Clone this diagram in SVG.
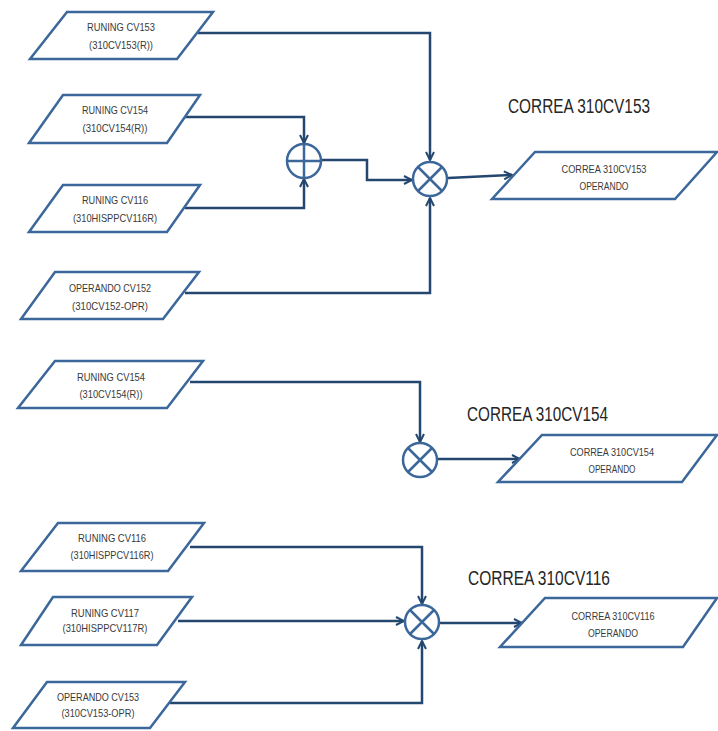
<svg xmlns="http://www.w3.org/2000/svg" width="718" height="731" viewBox="0 0 718 731">
  <style>
    .box { fill: #ffffff; stroke: #3b679a; stroke-width: 2.5; stroke-linejoin: miter; }
    .lbl { font-family: "Liberation Sans", Arial, sans-serif; font-size: 10.5px; fill: #3a3a3a; text-anchor: middle; }
    .title { font-family: "Liberation Sans", Arial, sans-serif; font-size: 20px; fill: #262626; }
    .wire { fill: none; stroke: #24476f; stroke-width: 2.5; stroke-linejoin: miter; }
    .op { fill: #ffffff; stroke: #3b679a; stroke-width: 2.5; }
  </style>
  <defs>
    <marker id="arrow" viewBox="0 0 10 10" refX="9" refY="5" markerWidth="10" markerHeight="10" markerUnits="userSpaceOnUse" orient="auto">
      <path d="M1,1 L9,5 L1,9" fill="none" stroke="#24476f" stroke-width="2"/>
    </marker>
  </defs>

  <rect width="718" height="731" fill="#ffffff"/>

  <!-- connectors -->
  <g id="connectors">
    <path class="wire" d="M198,33 H430 V160" marker-end="url(#arrow)"/>
    <path class="wire" d="M185,117 H304 V143" marker-end="url(#arrow)"/>
    <path class="wire" d="M185,208 H304 V179" marker-end="url(#arrow)"/>
    <path class="wire" d="M321,160 H367 V180 H412" marker-end="url(#arrow)"/>
    <path class="wire" d="M185,293 H430 V198" marker-end="url(#arrow)"/>
    <path class="wire" d="M448,178 L512,175" marker-end="url(#arrow)"/>

    <path class="wire" d="M190,382 H420 V442" marker-end="url(#arrow)"/>
    <path class="wire" d="M438,459 H520" marker-end="url(#arrow)"/>

    <path class="wire" d="M190,547 H422 V604" marker-end="url(#arrow)"/>
    <path class="wire" d="M178,621 H404" marker-end="url(#arrow)"/>
    <path class="wire" d="M170,703 H422 V641" marker-end="url(#arrow)"/>
    <path class="wire" d="M440,623 H522" marker-end="url(#arrow)"/>
  </g>

  <!-- operators -->
  <g id="sum153">
    <circle class="op" cx="304" cy="161" r="17"/>
    <path class="op" d="M287,161 H321 M304,144 V178"/>
  </g>
  <g id="and153">
    <circle class="op" cx="430" cy="179" r="17"/>
    <path class="op" d="M418,167 L442,191 M442,167 L418,191"/>
  </g>
  <g id="and154">
    <circle class="op" cx="420" cy="460" r="17"/>
    <path class="op" d="M408,448 L432,472 M432,448 L408,472"/>
  </g>
  <g id="and116">
    <circle class="op" cx="422" cy="622" r="17"/>
    <path class="op" d="M410,610 L434,634 M434,610 L410,634"/>
  </g>

  <!-- input nodes -->
  <g id="in-run153">
    <polygon class="box" points="67,12 213,12 177,59 30,59"/>
    <text class="lbl" x="121" y="31" textLength="68" lengthAdjust="spacingAndGlyphs">RUNING CV153</text>
    <text class="lbl" x="121" y="49" textLength="64" lengthAdjust="spacingAndGlyphs">(310CV153(R))</text>
  </g>
  <g id="in-run154a">
    <polygon class="box" points="63,95 200,95 167,143 29,143"/>
    <text class="lbl" x="115" y="114" textLength="66" lengthAdjust="spacingAndGlyphs">RUNING CV154</text>
    <text class="lbl" x="115" y="132" textLength="65" lengthAdjust="spacingAndGlyphs">(310CV154(R))</text>
  </g>
  <g id="in-run116a">
    <polygon class="box" points="63,185 200,185 167,232 29,232"/>
    <text class="lbl" x="115" y="204" textLength="66" lengthAdjust="spacingAndGlyphs">RUNING CV116</text>
    <text class="lbl" x="115" y="222" textLength="84" lengthAdjust="spacingAndGlyphs">(310HISPPCV116R)</text>
  </g>
  <g id="in-opr152">
    <polygon class="box" points="55,272 199,272 163,319 21,319"/>
    <text class="lbl" x="110" y="292" textLength="82" lengthAdjust="spacingAndGlyphs">OPERANDO CV152</text>
    <text class="lbl" x="110" y="310" textLength="76" lengthAdjust="spacingAndGlyphs">(310CV152-OPR)</text>
  </g>
  <g id="in-run154b">
    <polygon class="box" points="55,361 203,361 167,408 18,408"/>
    <text class="lbl" x="111" y="381" textLength="68" lengthAdjust="spacingAndGlyphs">RUNING CV154</text>
    <text class="lbl" x="111" y="398" textLength="63" lengthAdjust="spacingAndGlyphs">(310CV154(R))</text>
  </g>
  <g id="in-run116b">
    <polygon class="box" points="58,523 204,523 168,571 21,571"/>
    <text class="lbl" x="112" y="542" textLength="68" lengthAdjust="spacingAndGlyphs">RUNING CV116</text>
    <text class="lbl" x="112" y="559" textLength="83" lengthAdjust="spacingAndGlyphs">(310HISPPCV116R)</text>
  </g>
  <g id="in-run117">
    <polygon class="box" points="53,597 192,597 157,645 21,645"/>
    <text class="lbl" x="105" y="617" textLength="68" lengthAdjust="spacingAndGlyphs">RUNING CV117</text>
    <text class="lbl" x="105" y="632" textLength="85" lengthAdjust="spacingAndGlyphs">(310HISPPCV117R)</text>
  </g>
  <g id="in-opr153">
    <polygon class="box" points="47,682 185,682 150,728 13,728"/>
    <text class="lbl" x="98" y="701" textLength="82" lengthAdjust="spacingAndGlyphs">OPERANDO CV153</text>
    <text class="lbl" x="98" y="717" textLength="73" lengthAdjust="spacingAndGlyphs">(310CV153-OPR)</text>
  </g>

  <!-- output nodes -->
  <g id="out-153">
    <text class="title" x="508" y="113" textLength="142" lengthAdjust="spacingAndGlyphs">CORREA 310CV153</text>
    <polygon class="box" points="535,152 717,152 675,199 492,199"/>
    <text class="lbl" x="604" y="173" textLength="85" lengthAdjust="spacingAndGlyphs">CORREA 310CV153</text>
    <text class="lbl" x="604" y="190" textLength="49" lengthAdjust="spacingAndGlyphs">OPERANDO</text>
  </g>
  <g id="out-154">
    <text class="title" x="467" y="421" textLength="141" lengthAdjust="spacingAndGlyphs">CORREA 310CV154</text>
    <polygon class="box" points="542,435 717,435 682,482 498,482"/>
    <text class="lbl" x="612" y="456" textLength="84" lengthAdjust="spacingAndGlyphs">CORREA 310CV154</text>
    <text class="lbl" x="612" y="473" textLength="47" lengthAdjust="spacingAndGlyphs">OPERANDO</text>
  </g>
  <g id="out-116">
    <text class="title" x="468" y="585" textLength="142" lengthAdjust="spacingAndGlyphs">CORREA 310CV116</text>
    <polygon class="box" points="545,598 717,598 683,647 500,647"/>
    <text class="lbl" x="613" y="620" textLength="83" lengthAdjust="spacingAndGlyphs">CORREA 310CV116</text>
    <text class="lbl" x="613" y="637" textLength="50" lengthAdjust="spacingAndGlyphs">OPERANDO</text>
  </g>
</svg>
